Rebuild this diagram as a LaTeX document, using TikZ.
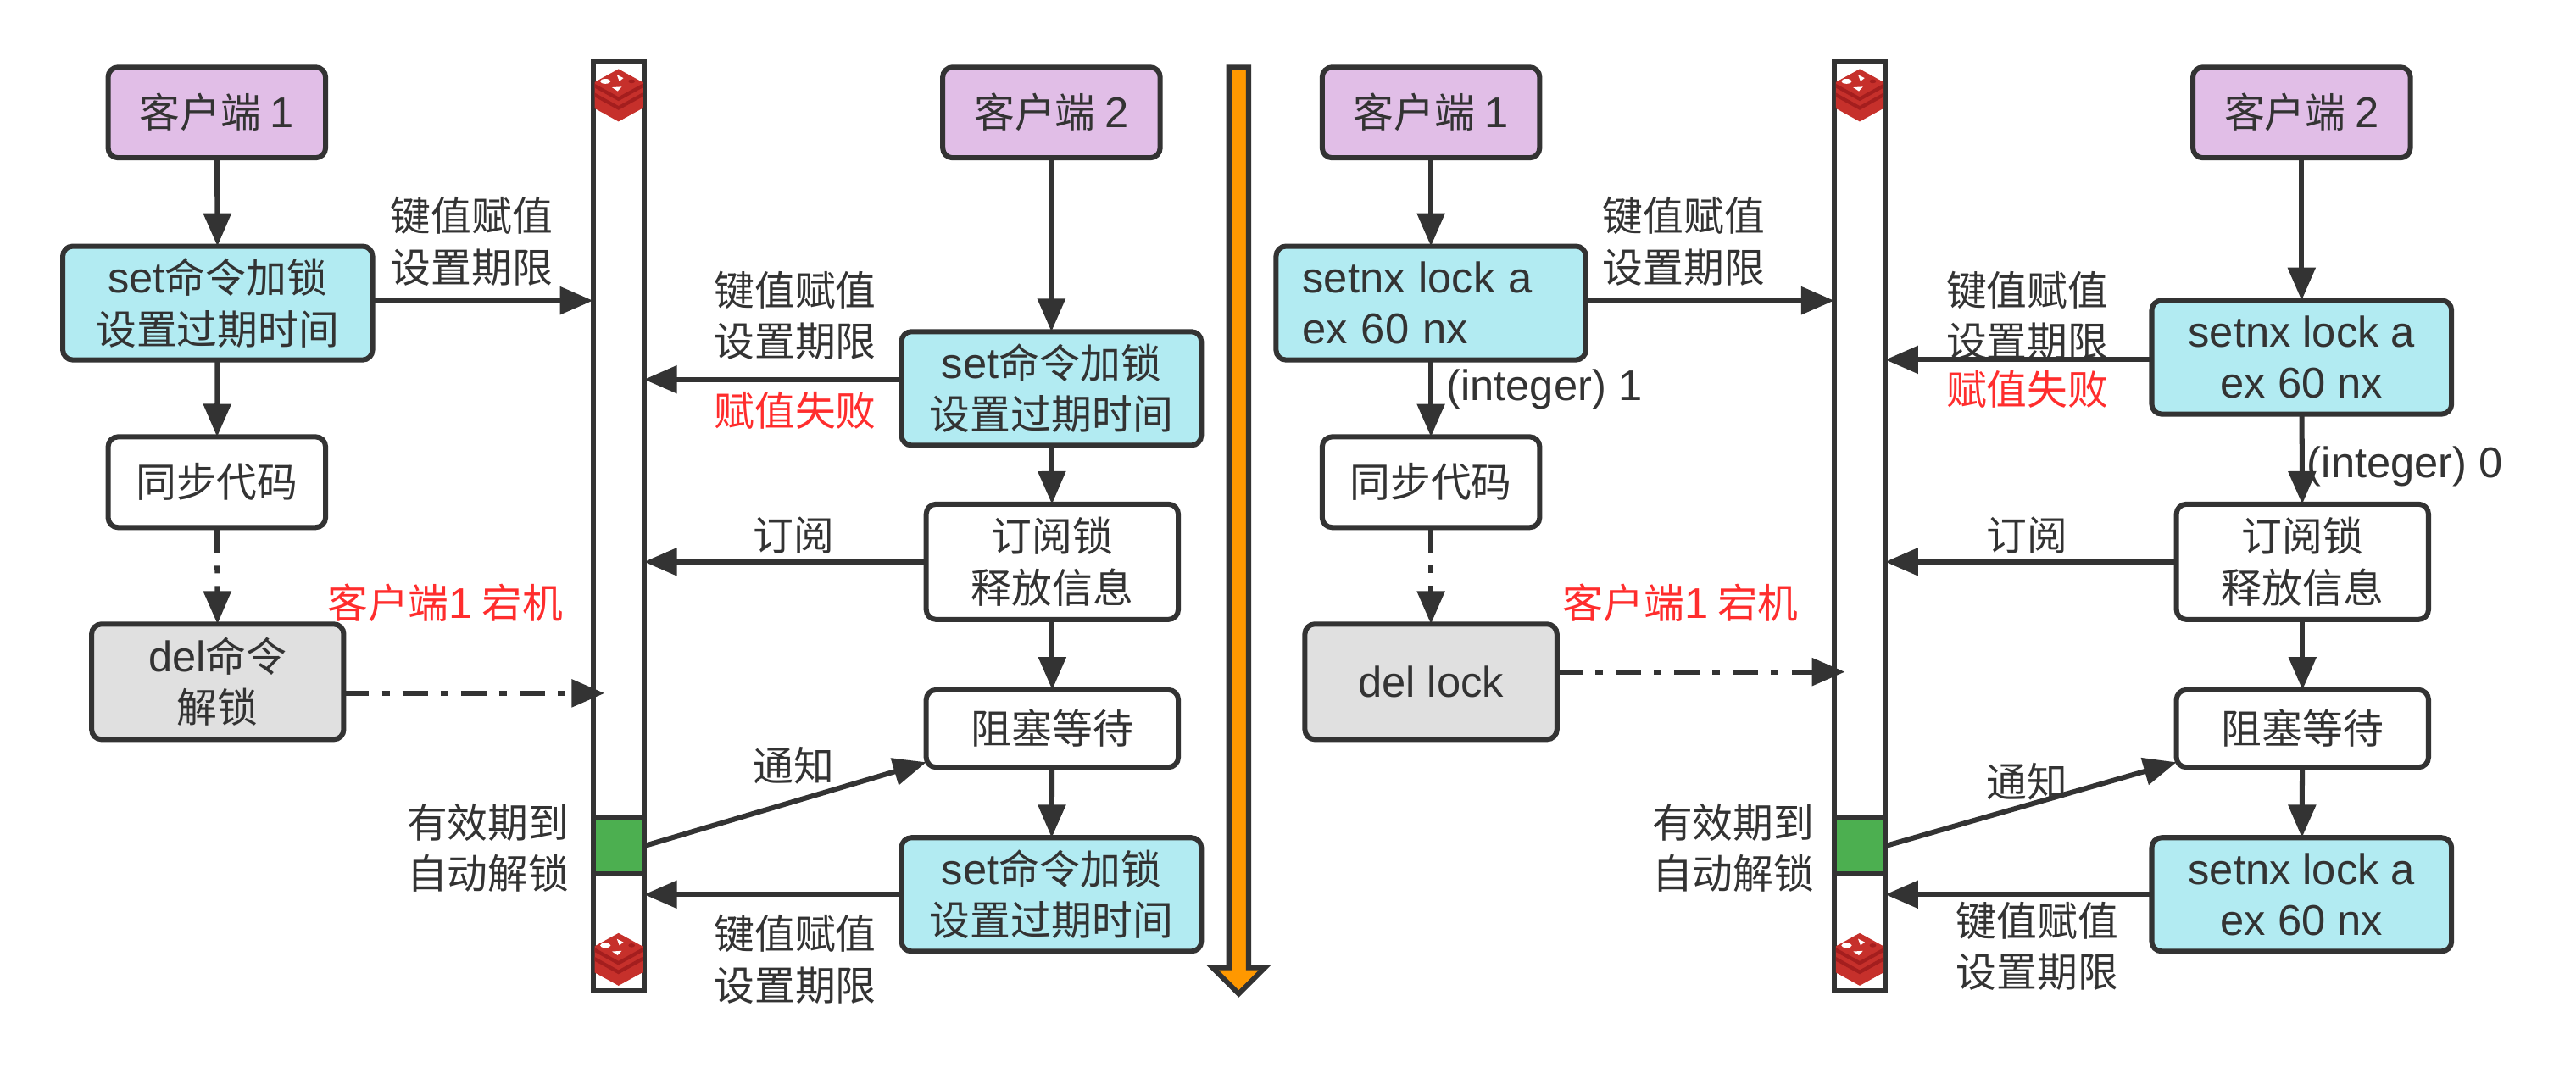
\documentclass[tikz,border=0pt]{standalone}
\usepackage{fontspec}
\setmainfont{Noto Sans CJK SC}
\newfontfamily\latfont[Scale=1.06]{Liberation Sans}
\newcommand{\lat}[1]{{\latfont #1}}
\usetikzlibrary{arrows.meta,calc}
\definecolor{ink}{HTML}{333333}
\definecolor{purplefill}{HTML}{E1BEE7}
\definecolor{cyanfill}{HTML}{B2EBF2}
\definecolor{greyfill}{HTML}{E0E0E0}
\definecolor{greenfill}{HTML}{4CAF50}
\definecolor{orangefill}{HTML}{FF9800}
\definecolor{redtxt}{HTML}{FF2D2D}
\definecolor{redisA}{HTML}{C6302B}
\definecolor{redisB}{HTML}{A41E1E}
\tikzset{
  box/.style={draw=ink,line width=1.55pt,rounded corners=3pt,inner sep=0pt,outer sep=0pt,align=center,text=ink,font=\fontsize{12.3}{15.5}\selectfont},
  client/.style={box,fill=purplefill,minimum width=66pt,minimum height=27.5pt},
  cmd/.style={box,fill=cyanfill,minimum width=91pt,minimum height=34.5pt},
  cmdwide/.style={box,fill=cyanfill,minimum width=94pt,minimum height=34.5pt},
  plain/.style={box,fill=white,minimum width=66pt,minimum height=27.5pt},
  midbox/.style={box,fill=white,minimum width=76.5pt,minimum height=35pt},
  waitbox/.style={box,fill=white,minimum width=76.5pt,minimum height=23.5pt},
  delbox/.style={box,fill=greyfill,minimum width=76.5pt,minimum height=35pt},
  barbox/.style={draw=ink,line width=1.55pt,fill=white,inner sep=0pt,outer sep=0pt,minimum width=15.5pt,minimum height=282pt},
  greenbox/.style={draw=ink,line width=1.55pt,fill=greenfill,inner sep=0pt,outer sep=0pt,minimum width=15.5pt,minimum height=17pt},
  lbl/.style={inner sep=0pt,align=center,text=ink,font=\fontsize{12.3}{15.5}\selectfont},
  redlbl/.style={lbl,text=redtxt},
  conn/.style={draw=ink,line width=1.55pt,-{Triangle[length=10pt,width=8.2pt]}},
  dconn/.style={conn,dash pattern=on 7.7pt off 3.9pt on 2.3pt off 3.9pt},
  redis/.pic={
    \fill[redisA] (-14.5,-8)--(0,-16)--(14.5,-8)--(14.5,8)--(0,16)--(-14.5,8)--cycle;
    \foreach \yy in {0,5.5}{
      \fill[redisB] (-14.5,\yy-7)--(0,\yy+1)--(14.5,\yy-7)--(14.5,\yy-4.5)--(0,\yy+3.5)--(-14.5,\yy-4.5)--cycle;
    }
    \fill[white] (-8,-8.5) ellipse (3.2 and 1.5);
    \fill[white] (-1,-12.5)--(3,-10.5)--(0.5,-8.5)--cycle;
    \fill[white] (-4,-4.8)--(2,-5.2)--(-0.5,-2.5)--cycle;
    \fill[redisB] (8,-8.5) ellipse (2 and 1.2);
  }
}
\begin{document}
\begin{tikzpicture}[x=0.49863pt,y=-0.49863pt]
\useasboundingbox (0,0) rectangle (1568,656.8);
% ---- left panel ----
\node[barbox] (barL) at (376.5,320.5) {};
\node[greenbox] (greenL) at (376.5,515) {};
\pic at (376.5,58) {redis};
\pic at (376.5,584) {redis};
\node[client] (c1L) at (132,68.5) {客户端 \lat{1}};
\node[cmdwide] (s1L) at (132.5,184.5) {\lat{set}命令加锁\\设置过期时间};
\node[plain] (syncL) at (132,293.5) {同步代码};
\node[delbox] (delL) at (132.5,415) {\lat{del}命令\\解锁};
\node[client] (c2L) at (640,68.5) {客户端 \lat{2}};
\node[cmd] (s2L) at (640,236.5) {\lat{set}命令加锁\\设置过期时间};
\node[midbox] (subL) at (640.5,342) {订阅锁\\释放信息};
\node[waitbox] (waitL) at (640.5,443.5) {阻塞等待};
\node[cmd] (s3L) at (640,544.5) {\lat{set}命令加锁\\设置过期时间};
\coordinate (deadL) at (368,422);
\draw[conn] (c1L)--(s1L);
\draw[conn] (s1L)--(syncL);
\draw[dconn] (syncL)--(delL);
\draw[dconn] (delL.east|-deadL)--(deadL);
\draw[conn] (s1L.east|-0,183)--(barL.west|-0,183);
\draw[conn] (c2L)--(s2L);
\draw[conn] (s2L)--(subL);
\draw[conn] (subL)--(waitL);
\draw[conn] (waitL)--(s3L);
\draw[conn] (s2L.west|-0,231)--(barL.east|-0,231);
\draw[conn] (subL.west)--(barL.east|-subL.west);
\draw[conn] (barL.east|-0,515)--(waitL.west|-0,464);
\draw[conn] (s3L.west)--(barL.east|-s3L.west);
\node[lbl] (t1L) at (287,147) {键值赋值\\设置期限};
\node[lbl] (t2L) at (484,192) {键值赋值\\设置期限};
\node[redlbl] (t3L) at (484,250) {赋值失败};
\node[lbl] (t4L) at (483,326) {订阅};
\node[redlbl] (t5L) at (271,367) {客户端\lat{1} 宕机};
\node[lbl] (t6L) at (483,466) {通知};
\node[lbl] (t7L) at (297,516) {有效期到\\自动解锁};
\node[lbl] (t8L) at (484,584) {键值赋值\\设置期限};
% ---- timeline arrow ----
\draw[draw=ink,line width=1.55pt,fill=orangefill,line join=miter]
  (748,41)--(760,41)--(760,589)--(770,589)--(754,605)--(738,589)--(748,589)--cycle;
% ---- right panel ----
\node[barbox] (barR) at (1132,320.5) {};
\node[greenbox] (greenR) at (1132,515) {};
\pic at (1132,58) {redis};
\pic at (1132,584) {redis};
\node[client] (c1R) at (871,68.5) {客户端 \lat{1}};
\node[cmdwide,text width=78pt,align=left] (s1R) at (871,184.5) {\lat{setnx lock a}\\\lat{ex 60 nx}};
\node[plain] (syncR) at (871,293.5) {同步代码};
\node[delbox] (delR) at (871,415) {\lat{del lock}};
\node[client] (c2R) at (1401,68.5) {客户端 \lat{2}};
\node[cmd] (s2R) at (1401,217.5) {\lat{setnx lock a}\\\lat{ex 60 nx}};
\node[midbox] (subR) at (1401.5,342) {订阅锁\\释放信息};
\node[waitbox] (waitR) at (1401.5,443.5) {阻塞等待};
\node[cmd] (s3R) at (1401,544.5) {\lat{setnx lock a}\\\lat{ex 60 nx}};
\coordinate (deadR) at (1123,409);
\draw[conn] (c1R)--(s1R);
\draw[conn] (s1R)--(syncR);
\draw[dconn] (syncR)--(delR);
\draw[dconn] (delR.east|-deadR)--(deadR);
\draw[conn] (s1R.east|-0,183)--(barR.west|-0,183);
\draw[conn] (c2R)--(s2R);
\draw[conn] (s2R)--(subR);
\draw[conn] (subR)--(waitR);
\draw[conn] (waitR)--(s3R);
\draw[conn] (s2R.west|-0,219)--(barR.east|-0,219);
\draw[conn] (subR.west)--(barR.east|-subR.west);
\draw[conn] (barR.east|-0,515)--(waitR.west|-0,464);
\draw[conn] (s3R.west)--(barR.east|-s3R.west);
\node[lbl] (t1R) at (1025,147) {键值赋值\\设置期限};
\node[lbl] (t2R) at (1234,192) {键值赋值\\设置期限};
\node[redlbl] (t3R) at (1234,237) {赋值失败};
\node[lbl,anchor=west] (t9R) at (880,237) {\lat{(integer) 1}};
\node[lbl,anchor=west] (t10R) at (1404,284) {\lat{(integer) 0}};
\node[lbl] (t4R) at (1234,326) {订阅};
\node[redlbl] (t5R) at (1023,367) {客户端\lat{1} 宕机};
\node[lbl] (t6R) at (1234,476) {通知};
\node[lbl] (t7R) at (1055,516) {有效期到\\自动解锁};
\node[lbl] (t8R) at (1240,576) {键值赋值\\设置期限};
\end{tikzpicture}
\end{document}
